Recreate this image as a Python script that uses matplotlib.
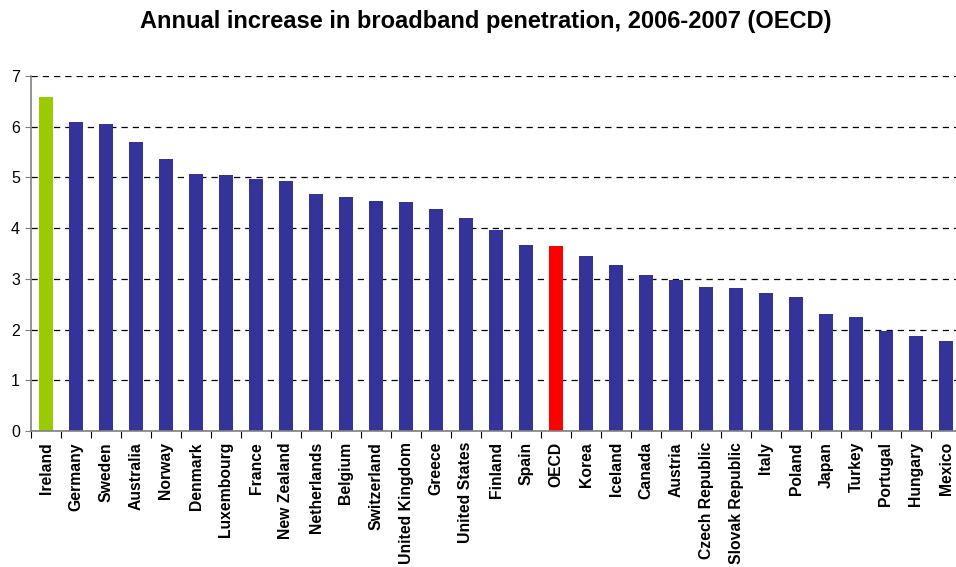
import matplotlib.pyplot as plt
import numpy as np

plt.rcParams['font.family'] = ['Liberation Sans', 'DejaVu Sans']

countries = ["Ireland", "Germany", "Sweden", "Australia", "Norway", "Denmark",
             "Luxembourg", "France", "New Zealand", "Netherlands", "Belgium",
             "Switzerland", "United Kingdom", "Greece", "United States", "Finland",
             "Spain", "OECD", "Korea", "Iceland", "Canada", "Austria",
             "Czech Republic", "Slovak Republic", "Italy", "Poland", "Japan",
             "Turkey", "Portugal", "Hungary", "Mexico"]
increase = [6.59, 6.09, 6.05, 5.70, 5.36, 5.07, 5.05, 4.97, 4.93, 4.67, 4.61,
            4.53, 4.51, 4.37, 4.20, 3.96, 3.66, 3.64, 3.46, 3.27, 3.07, 2.97,
            2.83, 2.82, 2.73, 2.64, 2.30, 2.24, 1.98, 1.88, 1.77]

colors = []
for c in countries:
    if c == "Ireland":
        colors.append('#99CC00')
    elif c == "OECD":
        colors.append('#FF0000')
    else:
        colors.append('#333399')

fig = plt.figure(figsize=(9.56, 5.67), dpi=100)
ax = fig.add_axes([31/956, 136/567, 930/956, 355/567])

x = np.arange(len(countries))
ax.bar(x, increase, width=0.47, color=colors, zorder=2)

ax.set_ylim(0, 7)
ax.set_xlim(-0.5, len(countries) - 0.5)
ax.set_yticks(range(0, 8))
ax.yaxis.grid(True, linestyle=(0, (5, 4)), color='black', linewidth=0.9, zorder=1)

ax.set_xticks(x)
ax.set_xticklabels(countries, rotation=90, fontsize=11.3, fontweight='bold')
ax.set_xticks(np.arange(-0.5, len(countries), 1), minor=True)
ax.tick_params(axis='x', which='major', length=0, pad=8)
ax.tick_params(axis='x', which='minor', length=5, color='black', width=0.8)
ax.tick_params(axis='y', length=4, color='#808080', labelsize=11.5, pad=4)

for s in ['top', 'right']:
    ax.spines[s].set_visible(False)
ax.spines['left'].set_color('#808080')
ax.spines['bottom'].set_color('#808080')
ax.spines['left'].set_linewidth(1.2)
ax.spines['bottom'].set_linewidth(1.2)

fig.text(0.5 + 8/956, 1 - 28/567, "Annual increase in broadband penetration, 2006-2007 (OECD)",
         ha='center', va='baseline', fontsize=17, fontweight='bold')

fig.savefig("out.png", dpi=100)
